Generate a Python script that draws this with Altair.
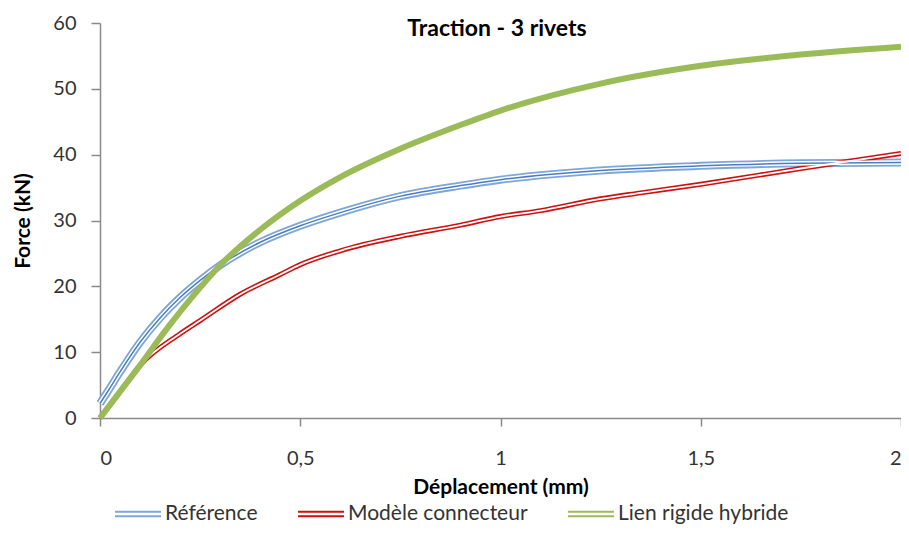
import altair as alt
import pandas as pd

# ---- data ----
title_text = "Traction - 3 rivets"
series = ["Référence", "Modèle connecteur", "Lien rigide hybride"]

ref_x = [0, 0.02, 0.05, 0.1, 0.15, 0.2, 0.25, 0.3, 0.4, 0.5, 0.6, 0.75, 0.9, 1.0, 1.25, 1.5, 1.75, 2.0]
ref_y = [2.2, 4.1, 7.0, 11.5, 15.2, 18.3, 20.9, 23.2, 26.7, 29.2, 31.2, 33.7, 35.3, 36.2, 37.6, 38.3, 38.7, 38.8]

mod_x = [0, 0.05, 0.1, 0.2, 0.25, 0.35, 0.45, 0.5, 0.6, 0.75, 0.9, 1.0, 1.1, 1.25, 1.35, 1.5, 1.75, 2.0]
mod_y = [0, 4.0, 8.0, 12.8, 14.8, 18.8, 21.8, 23.3, 25.4, 27.6, 29.3, 30.6, 31.5, 33.3, 34.2, 35.5, 37.9, 40.2]

lien_x = [0, 0.05, 0.1, 0.16, 0.25, 0.3, 0.4, 0.5, 0.6, 0.75, 0.9, 1.0, 1.25, 1.5, 1.75, 2.0]
lien_y = [0, 4.0, 8.0, 13.0, 19.8, 23.2, 28.6, 33.0, 36.6, 40.9, 44.5, 46.7, 50.8, 53.5, 55.2, 56.4]

x_ticks = [0, 0.5, 1, 1.5, 2]
y_ticks = [0, 10, 20, 30, 40, 50, 60]

rows = []
for name, xs, ys in [(series[0], ref_x, ref_y), (series[1], mod_x, mod_y), (series[2], lien_x, lien_y)]:
    for i, (a, b) in enumerate(zip(xs, ys)):
        rows.append({"s": name, "x": a, "y": b, "o": i})
df = pd.DataFrame(rows)

FONT = "Lato"
AXIS_GREY = "#8a8a8a"
LABEL = "#333333"
BLUE_OUT = "#7ea6d8"
BLUE_CORE = "#4a7ebb"
RED = "#cc1111"
GREEN = "#9bbb59"

x_enc = alt.X(
    "x:Q",
    scale=alt.Scale(domain=[0, 2], nice=False),
    axis=alt.Axis(
        values=x_ticks,
        labelExpr="replace(format(datum.value, '~g'), '.', ',')",
        title="Déplacement (mm)",
        grid=False,
        tickSize=8,
        labelPadding=22,
        titlePadding=8,
    ),
)
y_enc = alt.Y(
    "y:Q",
    scale=alt.Scale(domain=[0, 60], nice=False),
    axis=alt.Axis(
        values=y_ticks,
        title="Force (kN)",
        grid=False,
        tickSize=9,
        labelPadding=15,
        titlePadding=19,
    ),
)

# double-line legend symbol: two parallel strokes
double_line = "M-1,-0.1H1M-1,0.1H1"

legend = alt.Legend(
    orient="none",
    legendX=14,
    legendY=467,
    direction="horizontal",
    title=None,
    symbolType=double_line,
    symbolSize=2116,
    labelFont=FONT,
    labelFontSize=21,
    labelColor=LABEL,
    labelLimit=0,
    columnPadding=36,
    labelOffset=3,
    padding=0,
)

base = alt.Chart(df).encode(x=x_enc, y=y_enc, order="o:Q")
line_kw = dict(interpolate="monotone", strokeCap="butt", strokeJoin="round")


def only(name):
    return base.transform_filter(alt.FieldEqualPredicate(field="s", equal=name))


blue_outer = only(series[0]).mark_line(stroke=BLUE_OUT, strokeWidth=8, **line_kw)
red_outer = only(series[1]).mark_line(stroke=RED, strokeWidth=5, **line_kw)

# layer carrying the legend
keyed = base.mark_line(**line_kw).encode(
    color=alt.Color(
        "s:N",
        scale=alt.Scale(domain=series, range=[BLUE_OUT, RED, GREEN]),
        legend=legend,
    ),
    strokeWidth=alt.StrokeWidth(
        "s:N",
        scale=alt.Scale(domain=series, range=[2, 2, 5]),
        legend=legend,
    ),
)

inner_ref = only(series[0]).mark_line(stroke="#ffffff", strokeWidth=4.4, **line_kw)
core_ref = only(series[0]).mark_line(stroke=BLUE_CORE, strokeWidth=1.5, **line_kw)
inner_mod = only(series[1]).mark_line(stroke="#ffffff", strokeWidth=1.8, **line_kw)
green_top = only(series[2]).mark_line(stroke=GREEN, strokeWidth=6, **line_kw)

title_layer = alt.Chart(pd.DataFrame({"t": [title_text]})).mark_text(
    font=FONT, fontSize=23, fontWeight="bold", color="#000000",
    align="center", baseline="middle",
).encode(text="t:N", x=alt.value(397), y=alt.value(6))

chart = (
    alt.layer(blue_outer, red_outer, keyed, inner_ref, core_ref, inner_mod, green_top, title_layer)
    .properties(
        width=801,
        height=395,
        autosize=alt.AutoSizeParams(type="none"),
        padding={"left": 92, "top": 15, "right": 0, "bottom": 107},
    )
    .configure_view(stroke=None)
    .configure_axis(
        labelFont=FONT,
        labelFontSize=20,
        labelColor=LABEL,
        titleFont=FONT,
        titleFontSize=21,
        titleFontWeight="bold",
        titleColor="#000000",
        domainColor=AXIS_GREY,
        tickColor=AXIS_GREY,
        domainWidth=1.5,
        tickWidth=1.5,
    )
)

chart.save("out.html", embed_options={"renderer": "svg", "actions": False})
